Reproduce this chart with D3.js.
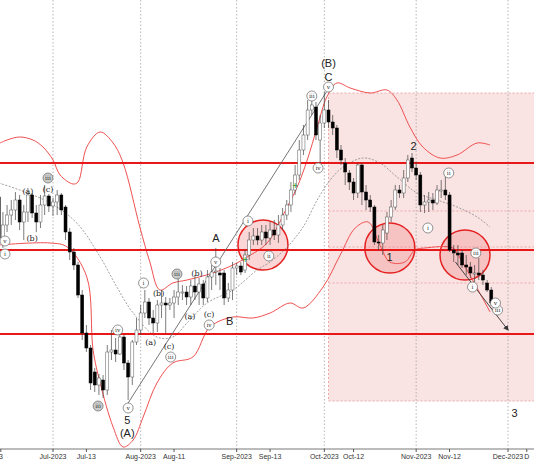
<!DOCTYPE html>
<html><head><meta charset="utf-8">
<script src="https://cdn.jsdelivr.net/npm/d3@7"></script>
<style>body{margin:0;background:#fff}svg{display:block}</style>
</head><body><svg id="chart"></svg>
<script>
// candles: [o,h,l,c], one per trading day starting at index 1
const candles = [
[303,315,255,262],[262,288,252,275],[275,295,268,285],[285,300,275,290],[290,308,280,300],
[300,305,270,278],[278,295,260,288],[288,312,278,305],[305,307,282,287],[287,295,268,278],
[278,305,272,295],[295,315,285,304],[304,306,288,294],[294,302,284,298],[298,310,285,305],
[305,307,285,290],[293,295,260,268],[268,272,240,248],[248,252,230,235],[235,238,202,205],
[205,210,160,167],[167,175,148,152],[152,155,110,117],[128,132,108,115],[115,126,105,122],
[120,125,102,110],[110,155,105,148],[148,170,140,150],[150,162,138,146],[146,168,145,163],
[163,165,130,137],[137,140,100,123],[123,160,115,158],[158,182,155,170],[170,195,165,187],
[187,210,182,198],[198,202,175,182],[182,190,167,177],[177,200,168,195],[195,210,182,197],
[197,203,167,195],[195,202,190,197],[197,210,182,203],[203,228,195,208],[208,215,200,208],
[208,214,195,203],[203,220,195,214],[214,225,200,208],[208,222,195,216],[216,220,195,202],
[202,230,198,223],[223,235,210,228],[228,252,215,229],[227,232,210,225],[227,230,195,202],
[202,217,198,210],[210,238,200,232],[232,237,225,234],[234,238,225,228],[230,250,227,245],
[245,268,240,260],[260,272,255,264],[264,272,255,260],[260,275,255,268],[268,275,255,262],
[262,278,255,270],[270,280,260,265],[265,285,257,275],[275,292,270,285],[285,300,280,295],
[295,318,288,310],[310,335,305,325],[325,360,320,350],[350,375,345,365],[365,400,360,390],
[390,403,385,395],[393,398,360,365],[360,385,337,377],[377,408,372,390],[390,400,372,378],
[378,385,365,372],[372,375,342,350],[350,355,335,340],[337,342,315,328],[327,330,310,318],
[318,322,300,307],[307,337,302,335],[335,337,295,308],[308,315,290,300],[300,305,288,293],
[293,295,255,258],[258,265,250,257],[257,275,245,270],[267,288,260,283],[283,300,278,293],
[293,315,290,310],[310,315,302,307],[307,330,302,322],[322,345,318,340],[342,347,328,332],
[332,338,320,325],[325,328,288,295],[295,305,287,298],[298,308,288,300],[300,307,290,297],
[297,315,295,310],[310,320,302,310],[310,328,300,305],[305,308,248,250],[250,255,238,247],
[247,255,235,245],[247,250,232,235],[235,245,225,233],[233,238,222,227],[227,235,218,227],
[227,242,220,225],[225,230,215,220],[217,220,208,210],[210,213,194,197],[197,202,188,195]];

const upperBand = [[1.3,357],[3,360],[6,363],[9.2,360],[11.6,353],[14,340],[15.7,325],[18.8,316],[20,318],
[22.1,353],[25.3,368],[28.4,357],[30.8,337],[34.8,273],[37.2,238],[39.6,210],[42.7,217],[46.1,220],[52.3,227],[57.1,235],
[60.5,243],[65.3,257],[70.1,293],[72.5,313],[74.9,340],[77.3,373],[79.6,403],[82,417],[85.2,412],
[90,407],[94,410],[96.4,400],[99.5,373],[102.6,353],[106.7,342],[110.8,345],[115.6,357],[118.7,355]];
const lowerBand = [[1,255],[13.3,257],[17.4,253],[22.1,223],[23.6,150],[25.3,117],[28.4,73],[30.8,53],
[33.2,60],[35.6,83],[38.9,117],[42.7,137],[47.5,143],[51.6,173],[57.1,183],[61.9,182],[66,187],
[70.8,197],[73.9,192],[78.7,213],[82.8,245],[86.4,272],[89.5,278],[92.3,255],[94.7,238],[98.3,238],
[100.7,250],[103.1,252],[109.8,252],[111.5,242],[118.7,188]];
const midBand = [[1,317],[6,310],[13.3,297],[19.7,277],[25.3,243],[29.3,213],[33.2,187],[38.9,163],
[42.7,163],[46.1,177],[50.9,197],[57.1,210],[62.9,230],[66,238],[70.1,253],[73.9,273],[77.3,300],
[80.4,320],[83.5,333],[88.3,342],[92.3,337],[96.4,323],[101.2,307],[106,300],[110.8,293],[115.6,283],[118.7,273]];

const levels = [337, 250, 166];
const zoneLevels = [407, 289, 253, 217, 99];
const zone = {from: 80, top: 407, bottom: 99};
const circlesAt = [[64.3,255],[94.7,252],[112.7,245]];
const trendLine = [[32,97],[79.5,408]];
const arrowLine = [[110.4,238],[123,170]];
const greenMarks = [[60,240],[72,314]];

const tickIdx = [1.5,14,22,35,43,58,66,79,86,101,109,123,127.5];
const tickLabels = ["3","Jul-2023","Jul-13","Aug-2023","Aug-11","Sep-2023","Sep-13","Oct-2023","Oct-12","Nov-2023","Nov-12","Dec-2023","D"];
const monthIdx = [14,35,58,79,101,123];

// wave labels: [idx, price, text, kind] kind: c=circled, g=gray circled, p=paren, b=big
const waveLabels = [
[2.5,259,"v","c"],[2.5,246,"i","c"],[12.8,322,"iii","g"],[8,309,"(a)","p"],[9,262,"(b)","p"],[12.8,311,"(c)","p"],
[24.8,94,"iii","g"],[29.5,170,"iv","c"],[32,92,"v","c"],[35.7,217,"i","c"],[39.3,207,"(b)","p"],[37.4,158,"(a)","p"],
[41.8,154,"(c)","p"],[42.2,143,"iii","c"],[43.7,226,"iii","g"],[46.8,184,"(a)","p"],[48.5,227,"(b)","p"],
[51.4,186,"(c)","p"],[51.4,175,"iv","c"],[53,238,"v","c"],[60.7,279,"i","c"],[65.7,244,"ii","c"],
[76,404,"iii","c"],[77.5,332,"iv","c"],[80,413,"v","c"],[103.8,272,"i","c"],[108.8,327,"ii","c"],
[115.3,247,"iii","c"],[114.5,213,"i","c"],[120.5,190,"iii","c"],[120,197,"v","c"],
[53,262,"A","b"],[56.3,179,"B","b"],[31.8,80,"5","b"],[31.8,67,"(A)","b"],[80,437,"(B)","b"],
[80,423,"C","b"],[100.4,354,"2","b"],[94.6,243,"1","b"],[124.6,87,"3","b"]];

const W = 534, H = 462;
const svg = d3.select("#chart").attr("width", W).attr("height", H);
const x = d3.scaleLinear().domain([14, 123]).range([53, 508]);
const y = d3.scaleLinear().domain([0, 500]).range([500, 0]);

// shaded projection zone
svg.append("rect").attr("x", x(zone.from)).attr("y", y(zone.top))
  .attr("width", W - x(zone.from)).attr("height", y(zone.bottom) - y(zone.top))
  .attr("fill", "#f7dcdc").attr("opacity", 0.8);
zoneLevels.forEach(p => svg.append("line").attr("x1", x(zone.from)).attr("x2", W)
  .attr("y1", y(p)).attr("y2", y(p)).attr("stroke", "#e89a9a").attr("stroke-dasharray", "2,2").attr("stroke-width", 0.8));
svg.append("line").attr("x1", x(zone.from)).attr("x2", x(zone.from)).attr("y1", y(zone.top)).attr("y2", y(zone.bottom))
  .attr("stroke", "#e89a9a").attr("stroke-dasharray", "2,2").attr("stroke-width", 0.8);

// month grid
monthIdx.forEach(i => svg.append("line").attr("x1", x(i)).attr("x2", x(i)).attr("y1", 0).attr("y2", 449)
  .attr("stroke", "#999").attr("stroke-dasharray", "1.5,2").attr("stroke-width", 0.7));

// circles
circlesAt.forEach(c => svg.append("circle").attr("cx", x(c[0])).attr("cy", y(c[1])).attr("r", 25)
  .attr("fill", "rgba(240,120,120,0.3)").attr("stroke", "#e52020").attr("stroke-width", 1.5));

// bands
const line = d3.line().x(d => x(d[0])).y(d => y(d[1])).curve(d3.curveCatmullRom);
svg.append("path").attr("d", line(upperBand)).attr("fill", "none").attr("stroke", "#f05050").attr("stroke-width", 1);
svg.append("path").attr("d", line(lowerBand)).attr("fill", "none").attr("stroke", "#f05050").attr("stroke-width", 1);
svg.append("path").attr("d", line(midBand)).attr("fill", "none").attr("stroke", "#888").attr("stroke-width", 0.8).attr("stroke-dasharray", "2,1.5");

// horizontal levels
levels.forEach(p => svg.append("line").attr("x1", 0).attr("x2", W).attr("y1", y(p)).attr("y2", y(p))
  .attr("stroke", "#e81818").attr("stroke-width", 2.2));

// trend line
const straight = d3.line().x(d => x(d[0])).y(d => y(d[1]));
svg.append("path").attr("d", straight(trendLine)).attr("stroke", "#666").attr("stroke-width", 0.9).attr("fill", "none");

// candles
const cw = 3;
const g = svg.append("g");
candles.forEach((d, k) => {
  const i = k + 1, [o, h, l, c] = d, up = c >= o;
  g.append("line").attr("x1", x(i)).attr("x2", x(i)).attr("y1", y(h)).attr("y2", y(l)).attr("stroke", "#444").attr("stroke-width", 0.7);
  g.append("rect").attr("x", x(i) - cw / 2).attr("y", y(Math.max(o, c)))
    .attr("width", cw).attr("height", Math.max(1, Math.abs(y(o) - y(c))))
    .attr("fill", up ? "#fff" : "#000").attr("stroke", up ? "#555" : "#000").attr("stroke-width", 0.5);
});

greenMarks.forEach(m => svg.append("text").attr("x", x(m[0])).attr("y", y(m[1]) + 3).attr("text-anchor", "middle")
  .attr("font-size", 10).attr("font-weight", "bold").attr("fill", "#2a9a2a").text("+"));

// arrow
svg.append("defs").append("marker").attr("id", "arr").attr("viewBox", "0 0 10 10").attr("refX", 8).attr("refY", 5)
  .attr("markerWidth", 6).attr("markerHeight", 6).attr("orient", "auto")
  .append("path").attr("d", "M0,0L10,5L0,10z").attr("fill", "#333");
svg.append("path").attr("d", straight(arrowLine)).attr("stroke", "#333").attr("stroke-width", 0.9).attr("marker-end", "url(#arr)");

// wave labels
waveLabels.forEach(([i, p, t, k]) => {
  const cx = x(i), cy = y(p);
  if (k === "c" || k === "g") {
    svg.append("circle").attr("cx", cx).attr("cy", cy).attr("r", 5)
      .attr("fill", k === "g" ? "#ccc" : "#fff").attr("stroke", "#666").attr("stroke-width", 0.7);
    svg.append("text").attr("x", cx).attr("y", cy + 2.2).attr("text-anchor", "middle")
      .attr("font-family", "DejaVu Serif, serif").attr("font-size", 6).attr("fill", "#333").text(t);
  } else if (k === "p") {
    svg.append("text").attr("x", cx).attr("y", cy + 3).attr("text-anchor", "middle")
      .attr("font-family", "DejaVu Serif, serif").attr("font-size", 8).attr("fill", "#222").text(t);
  } else {
    svg.append("text").attr("x", cx).attr("y", cy + 4).attr("text-anchor", "middle")
      .attr("font-family", "Liberation Sans, Arial, sans-serif").attr("font-size", 11).attr("fill", "#222").text(t);
  }
});

// x axis
svg.append("line").attr("x1", 0).attr("x2", W).attr("y1", 449).attr("y2", 449).attr("stroke", "#555").attr("stroke-width", 0.8);
tickIdx.forEach((t, j) => {
  svg.append("line").attr("x1", x(t)).attr("x2", x(t)).attr("y1", 449).attr("y2", 452).attr("stroke", "#555");
  svg.append("text").attr("x", x(t)).attr("y", 459).attr("text-anchor", "middle")
    .attr("font-family", "Liberation Sans, Arial, sans-serif").attr("font-size", 7).attr("fill", "#333").text(tickLabels[j]);
});
</script></body></html>
